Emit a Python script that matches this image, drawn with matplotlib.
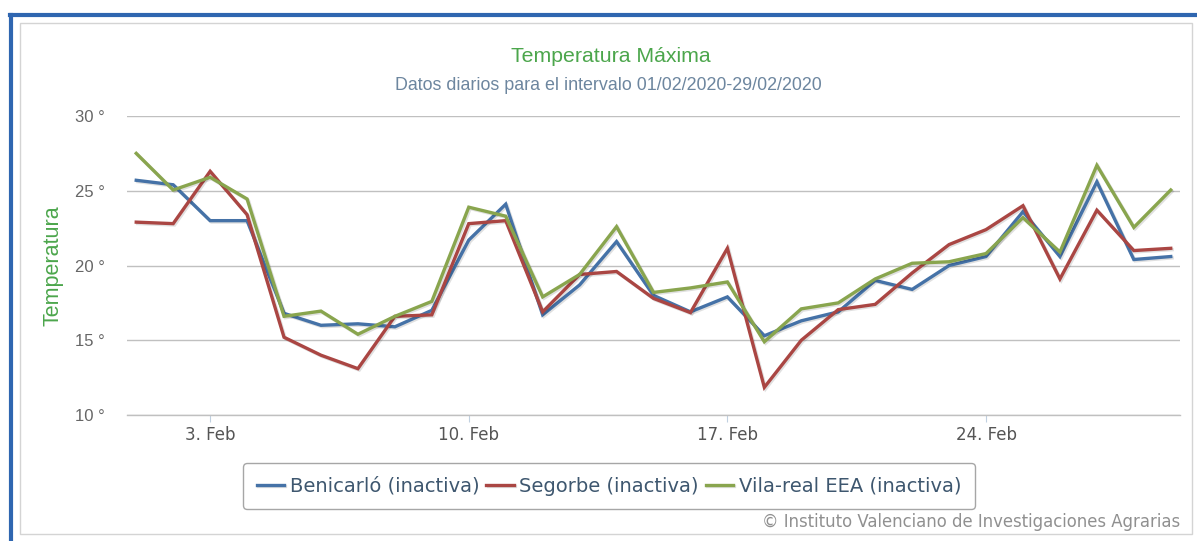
import matplotlib
matplotlib.use("Agg")
import matplotlib.pyplot as plt
import matplotlib.patheffects as pe
from matplotlib.lines import Line2D
from matplotlib.patches import Rectangle

# daily maximum temperature, 1-29 Feb 2020
days = list(range(1, 30))
benicarlo = [25.7, 25.4, 23.0, 23.0, 16.8, 16.0, 16.1, 15.9, 17.0, 21.7,
             24.1, 16.7, 18.7, 21.6, 18.0, 16.9, 17.9, 15.3, 16.3, 16.9,
             19.0, 18.4, 20.0, 20.6, 23.6, 20.6, 25.6, 20.4, 20.6]
segorbe = [22.9, 22.8, 26.3, 23.4, 15.2, 14.0, 13.1, 16.6, 16.7, 22.8,
           23.0, 16.9, 19.4, 19.6, 17.8, 16.85, 21.15, 11.85, 15.0, 17.05,
           17.4, 19.5, 21.4, 22.4, 24.0, 19.1, 23.7, 21.0, 21.15]
vilareal = [27.5, 25.05, 25.9, 24.45, 16.6, 16.95, 15.4, 16.6, 17.6, 23.9,
            23.3, 17.9, 19.4, 22.6, 18.2, 18.5, 18.9, 14.9, 17.1, 17.5,
            19.1, 20.15, 20.25, 20.8, 23.2, 20.9, 26.7, 22.55, 25.05]

series_names = ["Benicarló (inactiva)", "Segorbe (inactiva)", "Vila-real EEA (inactiva)"]
series_colors = ["#4572A7", "#AA4643", "#89A54E"]

tick_days = [3, 10, 17, 24]
tick_labels = ["3. Feb", "10. Feb", "17. Feb", "24. Feb"]
y_ticks = [10, 15, 20, 25, 30]

W, H = 1197, 541
fig = plt.figure(figsize=(W / 100, H / 100), dpi=100)
fig.patch.set_facecolor("white")

# frame: blue border (left and top) and light grey chart box
fig.add_artist(Line2D([11 / W, 11 / W], [0, 1 - 15 / H], color="#2F66B0", lw=3, transform=fig.transFigure))
fig.add_artist(Line2D([9.5 / W, 1], [1 - 15 / H, 1 - 15 / H], color="#2F66B0", lw=3, transform=fig.transFigure))
fig.add_artist(Rectangle((20 / W, 1 - 534 / H), 1172 / W, 511 / H, fill=False,
                         ec="#D4D4D4", lw=1, transform=fig.transFigure))

ax = fig.add_axes([127 / W, 1 - 415 / H, (1180 - 127) / W, (415 - 116) / H])
shadow = [pe.SimpleLineShadow(offset=(1, -1), alpha=0.12, shadow_color="black"), pe.Normal()]
for vals, name, col in zip([benicarlo, segorbe, vilareal], series_names, series_colors):
    ax.plot(days, vals, color=col, lw=2.4, label=name, solid_joinstyle="miter",
            path_effects=shadow, zorder=3)

ax.set_xlim(0.75, 29.25)
ax.set_ylim(10, 30)
ax.set_yticks(y_ticks)
ax.set_yticklabels([f"{v} °" for v in y_ticks], fontsize=12, color="#666666", family="Liberation Sans")
ax.set_xticks(tick_days)
ax.set_xticklabels(tick_labels, fontsize=12, color="#555555")
ax.tick_params(axis="y", length=0, pad=16)
ax.tick_params(axis="x", length=5, color="#C0D0E0", pad=3)
ax.grid(axis="y", color="#C0C0C0", lw=1)
for s in ax.spines.values():
    s.set_visible(False)
ax.spines["bottom"].set_visible(True)
ax.spines["bottom"].set_color("#C0C0C0")
ax.spines["bottom"].set_linewidth(1)
ax.set_ylabel("Temperatura", fontsize=15.5, color="#4CA64C", family="Liberation Sans", labelpad=8)

fig.text(611 / W, 1 - 56 / H, "Temperatura Máxima", ha="center", va="center",
         fontsize=15.3, color="#4CA64C", family="Liberation Sans")
fig.text(608 / W, 1 - 85 / H, "Datos diarios para el intervalo 01/02/2020-29/02/2020",
         ha="center", va="center", fontsize=12.9, color="#6D869F", family="Liberation Sans")

leg = fig.legend(loc="center", bbox_to_anchor=(609 / W, 1 - 486 / H), ncol=3,
                 fontsize=14, handlelength=1.4, handletextpad=0.3, columnspacing=0.35,
                 frameon=True, fancybox=True, borderpad=0.7, borderaxespad=0)
leg.get_frame().set_edgecolor("#909090")
leg.get_frame().set_linewidth(1)
for t in leg.get_texts():
    t.set_color("#3E576F")
for h in leg.get_lines():
    h.set_linewidth(2.4)

fig.text(1180 / W, 1 - 522 / H, "© Instituto Valenciano de Investigaciones Agrarias",
         ha="right", va="center", fontsize=11.9, color="#909090")

fig.savefig("out.png", dpi=100)
